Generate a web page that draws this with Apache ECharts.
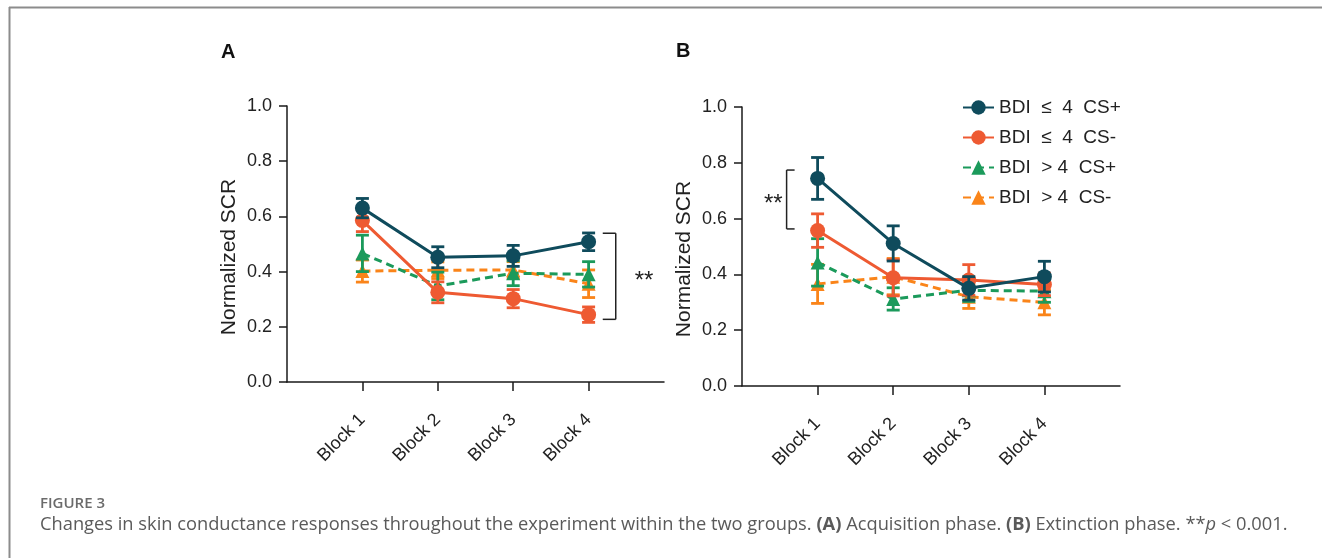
<!DOCTYPE html>
<html>
<head>
<meta charset="utf-8">
<script src="https://cdn.jsdelivr.net/npm/echarts@6/dist/echarts.min.js"></script>
<style>
  html, body { margin: 0; padding: 0; background: #fff; }
  #chart { width: 1322px; height: 558px; }
</style>
</head>
<body>
<div id="chart"></div>
<script>
// categories and positions on the x axis
var categories = ['Block 1', 'Block 2', 'Block 3', 'Block 4'];
var blockPos = [1, 2, 3, 4];
var yTicks = [0, 0.2, 0.4, 0.6, 0.8, 1.0];

var seriesNames = ['BDI  \u2264  4  CS+', 'BDI  \u2264  4  CS-', 'BDI  > 4  CS+', 'BDI  > 4  CS-'];

// (A) acquisition phase: means and error half-widths
var aLowPlus = [0.63, 0.452, 0.457, 0.508];
var aLowPlusErr = [0.035, 0.038, 0.038, 0.032];
var aLowMinus = [0.585, 0.325, 0.302, 0.244];
var aLowMinusErr = [0.04, 0.038, 0.033, 0.028];
var aHighPlus = [0.466, 0.348, 0.394, 0.39];
var aHighPlusErr = [0.066, 0.05, 0.045, 0.046];
var aHighMinus = [0.402, 0.405, 0.406, 0.356];
var aHighMinusErr = [0.04, 0.03, 0.03, 0.05];

// (B) extinction phase
var bLowPlus = [0.744, 0.511, 0.35, 0.392];
var bLowPlusErr = [0.075, 0.063, 0.042, 0.055];
var bLowMinus = [0.557, 0.388, 0.38, 0.364];
var bLowMinusErr = [0.06, 0.065, 0.055, 0.04];
var bHighPlus = [0.443, 0.312, 0.343, 0.34];
var bHighPlusErr = [0.085, 0.04, 0.04, 0.04];
var bHighMinus = [0.366, 0.392, 0.32, 0.3];
var bHighMinusErr = [0.07, 0.065, 0.042, 0.045];

// significance brackets: [x, low, high, side]
var bracketA = [[4.36, 0.227, 0.539, -1]];
var bracketB = [[0.59, 0.563, 0.774, 1]];

var colors = ['#0f4b5c', '#ee5a32', '#1b9a5b', '#fa8419'];
var symbols = ['circle', 'circle', 'triangle', 'triangle'];
var dashed = [false, false, true, true];

var FONT = '"Liberation Sans", Arial, sans-serif';
var CAPTION_FONT = '"Open Sans", sans-serif';
var AXIS_COLOR = '#1a1a1a';

var chart = echarts.init(document.getElementById('chart'));

function pairs(vals) {
  return blockPos.map(function (x, i) { return [x, vals[i]]; });
}

function errData(vals, errs) {
  return blockPos.map(function (x, i) { return [x, vals[i] - errs[i], vals[i] + errs[i]]; });
}

function renderErr(params, api) {
  var lo = api.coord([api.value(0), api.value(1)]);
  var hi = api.coord([api.value(0), api.value(2)]);
  var style = { stroke: api.visual('color'), lineWidth: 2.8 };
  var w = 6.5;
  return {
    type: 'group',
    children: [
      { type: 'line', shape: { x1: lo[0], y1: lo[1], x2: hi[0], y2: hi[1] }, style: style },
      { type: 'line', shape: { x1: lo[0] - w, y1: lo[1], x2: lo[0] + w, y2: lo[1] }, style: style },
      { type: 'line', shape: { x1: hi[0] - w, y1: hi[1], x2: hi[0] + w, y2: hi[1] }, style: style }
    ]
  };
}

function renderBracket(params, api) {
  var lo = api.coord([api.value(0), api.value(1)]);
  var hi = api.coord([api.value(0), api.value(2)]);
  var side = api.value(3);
  var arm = side < 0 ? 13 : 8;
  var style = { stroke: '#222', lineWidth: 1.5 };
  var midY = (lo[1] + hi[1]) / 2;
  return {
    type: 'group',
    children: [
      { type: 'line', shape: { x1: lo[0], y1: lo[1], x2: hi[0], y2: hi[1] }, style: style },
      { type: 'line', shape: { x1: lo[0], y1: lo[1], x2: lo[0] + side * arm, y2: lo[1] }, style: style },
      { type: 'line', shape: { x1: hi[0], y1: hi[1], x2: hi[0] + side * arm, y2: hi[1] }, style: style },
      {
        type: 'text',
        style: {
          x: side < 0 ? lo[0] + 19 : lo[0] - 4,
          y: midY + 5,
          text: '**',
          fill: '#222',
          font: '24px ' + FONT,
          align: side < 0 ? 'left' : 'right',
          verticalAlign: 'middle'
        }
      }
    ]
  };
}

function makeXAxis(gridIndex) {
  return {
    type: 'value', gridIndex: gridIndex, min: 0, max: 5, interval: 1,
    axisLine: { show: true, lineStyle: { color: AXIS_COLOR, width: 1.5 } },
    axisTick: { show: true, customValues: blockPos, length: 9, lineStyle: { color: AXIS_COLOR, width: 1.5 } },
    axisLabel: {
      customValues: blockPos, rotate: 45, margin: 35,
      formatter: function (v) { return categories[v - 1]; },
      fontSize: 18, color: '#222', fontFamily: FONT
    },
    splitLine: { show: false }
  };
}

function makeYAxis(gridIndex) {
  return {
    type: 'value', gridIndex: gridIndex, min: 0, max: 1, interval: 0.2,
    axisLine: { show: true, lineStyle: { color: AXIS_COLOR, width: 1.5 } },
    axisTick: { show: true, length: 8, customValues: yTicks, lineStyle: { color: AXIS_COLOR, width: 1.5 } },
    axisLabel: {
      customValues: yTicks, margin: 15, fontSize: 18, color: '#222', fontFamily: FONT,
      formatter: function (v) { return v.toFixed(1); }
    },
    splitLine: { show: false }
  };
}

function yTitle(x, y) {
  return {
    type: 'text', x: x, y: y, rotation: Math.PI / 2,
    style: { text: 'Normalized SCR', font: '21px ' + FONT, fill: '#222', align: 'center', verticalAlign: 'middle' }
  };
}

function panelSeries(idx, sets) {
  var out = [];
  // error bars first so markers sit over them
  sets.forEach(function (s, k) {
    out.push({
      type: 'custom', name: 'err' + idx + k, xAxisIndex: idx, yAxisIndex: idx,
      renderItem: renderErr, data: errData(s[0], s[1]),
      itemStyle: { color: colors[k] }, z: 10 - k, silent: true
    });
  });
  sets.forEach(function (s, k) {
    out.push({
      type: 'line', name: seriesNames[k], xAxisIndex: idx, yAxisIndex: idx,
      data: pairs(s[0]), symbol: symbols[k], symbolSize: k < 2 ? 15 : 14,
      lineStyle: { color: colors[k], width: 3, type: dashed[k] ? [8, 5] : 'solid' },
      itemStyle: { color: colors[k] }, z: 10 - k
    });
  });
  return out;
}

var series = [].concat(
  panelSeries(0, [[aLowPlus, aLowPlusErr], [aLowMinus, aLowMinusErr], [aHighPlus, aHighPlusErr], [aHighMinus, aHighMinusErr]]),
  panelSeries(1, [[bLowPlus, bLowPlusErr], [bLowMinus, bLowMinusErr], [bHighPlus, bHighPlusErr], [bHighMinus, bHighMinusErr]]),
  [
    { type: 'custom', xAxisIndex: 0, yAxisIndex: 0, renderItem: renderBracket, data: bracketA, silent: true, z: 20 },
    { type: 'custom', xAxisIndex: 1, yAxisIndex: 1, renderItem: renderBracket, data: bracketB, silent: true, z: 20 }
  ]
);

chart.setOption({
  animation: false,
  backgroundColor: '#fff',
  grid: [
    { left: 287, top: 106, width: 377, height: 276 },
    { left: 742, top: 107, width: 378, height: 279 }
  ],
  xAxis: [makeXAxis(0), makeXAxis(1)],
  yAxis: [makeYAxis(0), makeYAxis(1)],
  legend: {
    data: seriesNames, orient: 'vertical', left: 957, top: 93,
    itemWidth: 31, itemHeight: 18, itemGap: 11,
    textStyle: { fontSize: 19, color: '#222', fontFamily: FONT },
    selectedMode: false
  },
  graphic: [
    { type: 'line', shape: { x1: 9, y1: 7.5, x2: 1322, y2: 7.5 }, style: { stroke: '#8c8c8c', lineWidth: 2 } },
    { type: 'line', shape: { x1: 9.5, y1: 7, x2: 9.5, y2: 558 }, style: { stroke: '#8c8c8c', lineWidth: 2 } },
    { type: 'text', left: 221, top: 42, style: { text: 'A', font: 'bold 20px ' + FONT, fill: '#111' } },
    { type: 'text', left: 676, top: 41, style: { text: 'B', font: 'bold 20px ' + FONT, fill: '#111' } },
    yTitle(229, 257),
    yTitle(684, 259),
    { type: 'text', left: 40, top: 496, style: { text: 'FIGURE 3', font: '600 15px ' + CAPTION_FONT, fill: '#6b6b6b' } },
    {
      type: 'text', left: 40, top: 516,
      style: {
        text: 'Changes in skin conductance responses throughout the experiment within the two groups. {b|(A)} Acquisition phase. {b|(B)} Extinction phase. **{i|p} < 0.001.',
        font: '18.3px ' + CAPTION_FONT, fill: '#5a5a5a',
        rich: {
          b: { fontWeight: 'bold', fontSize: 18.3, fontFamily: CAPTION_FONT, fill: '#5a5a5a' },
          i: { fontStyle: 'italic', fontSize: 18.3, fontFamily: CAPTION_FONT, fill: '#5a5a5a' }
        }
      }
    }
  ],
  series: series
});
</script>
</body>
</html>
